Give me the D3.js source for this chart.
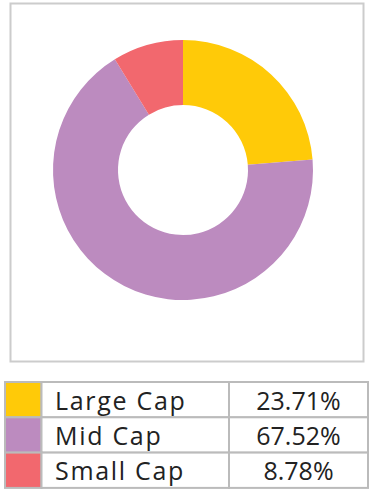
<!DOCTYPE html>
<html>
<head>
<meta charset="utf-8">
<script src="https://cdn.jsdelivr.net/npm/d3@7"></script>
<style>
  html, body { margin: 0; padding: 0; background: #fff; }
  svg { display: block; }
</style>
</head>
<body>
<svg id="chart" width="377" height="494"></svg>
<script>
// --- Data ---
const categories = ["Large Cap", "Mid Cap", "Small Cap"];
const shares = [23.71, 67.52, 8.78];
const colors = ["#FFCA08", "#BC8BBF", "#F2686E"];

const svg = d3.select("#chart");

// --- Chart frame ---
svg.append("rect")
  .attr("x", 10.5)
  .attr("y", 3.5)
  .attr("width", 353)
  .attr("height", 358)
  .attr("fill", "#fff")
  .attr("stroke", "#cccccc")
  .attr("stroke-width", 2);

// --- Donut ---
const cx = 183, cy = 170;
const outerR = 130, innerR = 65;

const pie = d3.pie().sort(null).value(d => d);
const arc = d3.arc().innerRadius(innerR).outerRadius(outerR);

svg.append("g")
  .attr("transform", `translate(${cx},${cy})`)
  .selectAll("path")
  .data(pie(shares))
  .join("path")
  .attr("d", arc)
  .attr("fill", (d, i) => colors[i]);

// --- Legend table ---
const tableX = 5, tableY = 382;
const rowH = 35.3;
const colX = [tableX, 41.5, 229, 368];

const rows = d3.scaleBand()
  .domain(categories)
  .range([tableY, tableY + rowH * categories.length]);

const gTable = svg.append("g");
const font = "'Open Sans', Lato, sans-serif";

categories.forEach((c, i) => {
  const y = rows(c);
  [[colX[0], colX[1], colors[i]], [colX[1], colX[2], "#fff"], [colX[2], colX[3], "#fff"]]
    .forEach(([x0, x1, fill]) => {
      gTable.append("rect")
        .attr("x", x0)
        .attr("y", y)
        .attr("width", x1 - x0)
        .attr("height", rows.bandwidth())
        .attr("fill", fill)
        .attr("stroke", "#bbbbbb")
        .attr("stroke-width", 2);
    });

  gTable.append("text")
    .attr("x", 55)
    .attr("y", y + rows.bandwidth() / 2 + 10)
    .attr("font-family", font)
    .attr("font-weight", 400)
    .attr("font-size", 25)
    .attr("letter-spacing", 1.7)
    .attr("fill", "#222")
    .text(c);

  gTable.append("text")
    .attr("x", (colX[2] + colX[3]) / 2)
    .attr("y", y + rows.bandwidth() / 2 + 10)
    .attr("text-anchor", "middle")
    .attr("font-family", font)
    .attr("font-weight", 400)
    .attr("font-size", 25)
    .attr("fill", "#222")
    .text(shares[i].toFixed(2) + "%");
});
</script>
</body>
</html>
